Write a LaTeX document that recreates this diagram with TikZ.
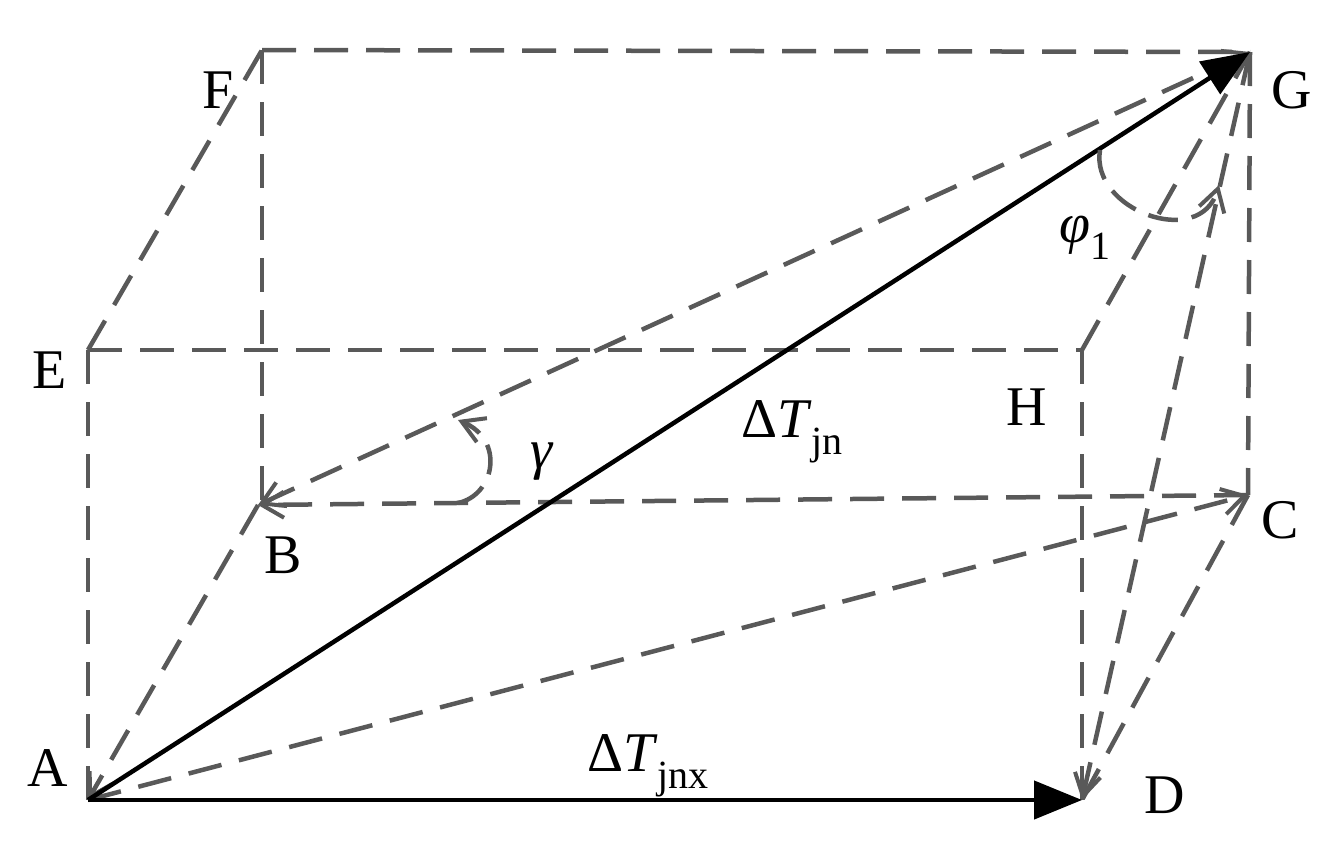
\documentclass[tikz,border=0pt]{standalone}
\usepackage{fontspec}
\setmainfont{Liberation Serif}
\usetikzlibrary{arrows.meta}
\newcommand{\subx}[1]{\raisebox{-0.3em}{\fontsize{40}{42}\selectfont #1}}
\begin{document}
\begin{tikzpicture}[x=1pt,y=-1pt,
  dl/.style={draw=black!65,line width=4.5pt,dash pattern=on 34pt off 18pt},
  ga/.style={-{Straight Barb[length=22pt,width=26pt,line width=4pt]}},
  gab/.style={{Straight Barb[length=22pt,width=26pt,line width=4pt]}-{Straight Barb[length=22pt,width=26pt,line width=4pt]}},
  sol/.style={draw=black,line width=4.5pt,-{Triangle[length=48pt,width=38pt]}},
  lab/.style={font=\fontsize{56}{60}\selectfont,inner sep=0pt}]
\useasboundingbox (0,0) rectangle (1342,841);
\coordinate (A) at (88,800);
\coordinate (D) at (1082,800);
\coordinate (B) at (258,505);
\coordinate (C) at (1248,495);
\coordinate (E) at (88,350);
\coordinate (H) at (1082,350);
\coordinate (F) at (262,50);
\coordinate (G) at (1250,52);
\path[dl] (E) -- (F);
\path[dl] (F) -- (G);
\path[dl] (E) -- (H);
\path[dl] (E) -- (A);
\path[dl] (F) -- (262,505);
\path[dl] (H) -- (D);
\path[dl] (G) -- (C);
\path[dl] (H) -- (G);
\path[dl] (C) -- (D);
\path[dl,ga] (B) -- (A);
\path[dl,ga] (C) -- (B);
\path[dl,ga] (A) -- (C);
\path[dl,gab] (B) -- (G);
\path[dl,ga] (G) -- (D);
\path[sol] (A) -- (G);
\path[sol] (A) -- (D);
% angle arcs
\coordinate (g1) at (458,420);
\coordinate (g2) at (458,503);
\path[dl,ga,dash pattern=on 30pt off 14pt] (g2) .. controls (495,495) and (505,440) .. (g1);
\coordinate (p1) at (1100,150);
\coordinate (p2) at (1219,185);
\path[dl,ga,dash pattern=on 30pt off 14pt] (p1) .. controls (1090,210) and (1200,250) .. (p2);
\node[lab] (lF) at (218,90) {F};
\node[lab] (lG) at (1292,90) {G};
\node[lab] (lE) at (50,370) {E};
\node[lab] (lH) at (1027,407) {H};
\node[lab] (lB) at (283,555) {B};
\node[lab] (lC) at (1280,520) {C};
\node[lab] (lA) at (48,768) {A};
\node[lab] (lD) at (1165,795) {D};
\node[lab] (lg) at (542,462) {\textit{γ}};
\node[lab] (ljn) at (792,432) {Δ\textit{T}\subx{jn}};
\node[lab] (ljnx) at (648,766) {Δ\textit{T}\subx{jnx}};
\node[lab] (lp) at (1085,238) {\textit{φ}\subx{1}};
\end{tikzpicture}
\end{document}
